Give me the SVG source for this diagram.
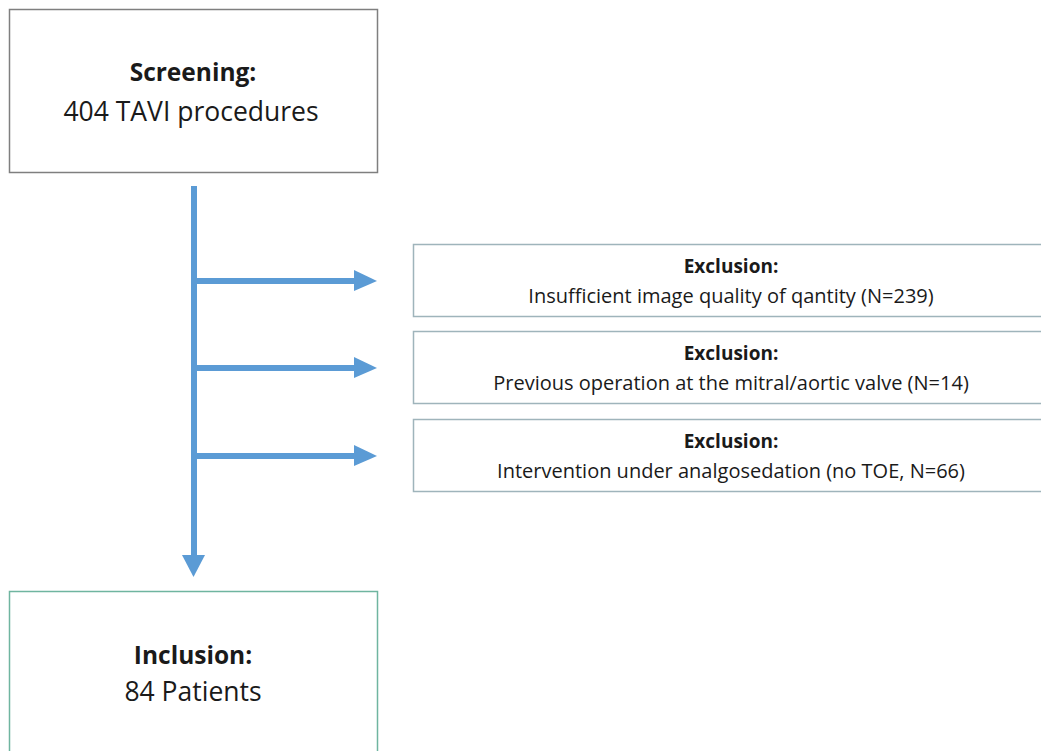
<svg xmlns="http://www.w3.org/2000/svg" width="1041" height="751" viewBox="0 0 1041 751">
  <style>
    .box { fill: #ffffff; stroke-width: 1.5; }
    .scr { stroke: #7f7f7f; }
    .exc { stroke: #9fb4bb; }
    .inc { stroke: #6fb5a0; }
    .t { font-family: "Open Sans", "Liberation Sans", sans-serif; fill: #1a1a1a; text-anchor: middle; }
    .bigb { font-size: 24.5px; font-weight: bold; }
    .big { font-size: 26.5px; }
    .smallb { font-size: 19px; font-weight: bold; }
    .small { font-size: 20px; }
    .arrow { stroke: #5b9bd5; stroke-width: 6; fill: none; }
    .head { fill: #5b9bd5; }
  </style>
  <rect width="1041" height="751" fill="#ffffff"/>
  <g id="screening">
    <rect class="box scr" x="9.5" y="9.5" width="368" height="163"/>
    <text class="t bigb" x="193" y="81">Screening:</text>
    <text class="t big" x="191" y="121">404 TAVI procedures</text>
  </g>
  <g id="exclusion1">
    <rect class="box exc" x="413.5" y="244.5" width="640" height="72"/>
    <text class="t smallb" x="731" y="273">Exclusion:</text>
    <text class="t small" x="731" y="303">Insufficient image quality of qantity (N=239)</text>
  </g>
  <g id="exclusion2">
    <rect class="box exc" x="413.5" y="331.5" width="640" height="72"/>
    <text class="t smallb" x="731" y="360">Exclusion:</text>
    <text class="t small" x="731" y="390">Previous operation at the mitral/aortic valve (N=14)</text>
  </g>
  <g id="exclusion3">
    <rect class="box exc" x="413.5" y="419.5" width="640" height="72"/>
    <text class="t smallb" x="731" y="448">Exclusion:</text>
    <text class="t small" x="731" y="478">Intervention under analgosedation (no TOE, N=66)</text>
  </g>
  <g id="inclusion">
    <rect class="box inc" x="9.5" y="591.5" width="368" height="170"/>
    <text class="t bigb" x="193" y="664">Inclusion:</text>
    <text class="t big" x="193" y="701">84 Patients</text>
  </g>
  <g id="connectors">
    <line class="arrow" x1="194" y1="186" x2="194" y2="556"/>
    <polygon class="head" points="182,555 205,555 193.5,577"/>
    <line class="arrow" x1="194" y1="281" x2="355" y2="281"/>
    <polygon class="head" points="354,270 377,281 354,291"/>
    <line class="arrow" x1="194" y1="368" x2="355" y2="368"/>
    <polygon class="head" points="354,357 377,368 354,378"/>
    <line class="arrow" x1="194" y1="456" x2="355" y2="456"/>
    <polygon class="head" points="354,445 377,456 354,466"/>
  </g>
</svg>
